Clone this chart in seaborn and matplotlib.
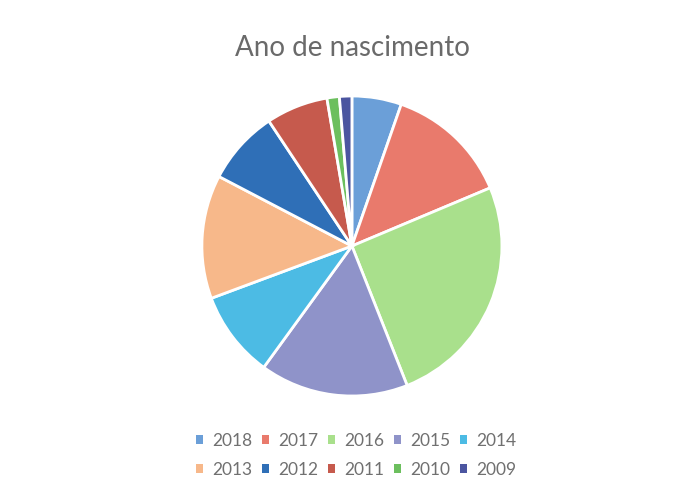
import matplotlib
matplotlib.use('Agg')
import matplotlib.pyplot as plt
import seaborn as sns
from matplotlib.patches import Patch

# Data (counts per birth year)
anos = ['2018', '2017', '2016', '2015', '2014', '2013', '2012', '2011', '2010', '2009']
contagens = [4, 10, 19, 12, 7, 10, 6, 5, 1, 1]
cores = ['#6b9fd8', '#e97a6c', '#a9e08c', '#8f93c9', '#4cbbe4',
         '#f7b88a', '#2f6fb7', '#c65a4d', '#6cbf5e', '#4b55a0']

sns.set_theme(style='white')
plt.rcParams['font.family'] = ['Lato', 'DejaVu Sans']

fig = plt.figure(figsize=(6.82, 5), dpi=100)
fig.patch.set_facecolor('white')

ax = fig.add_axes([0.296, 0.208, 0.44, 0.6])
ax.pie(contagens, colors=cores, startangle=90, counterclock=False,
       wedgeprops={'edgecolor': 'white', 'linewidth': 2})
ax.set_xlim(-1.0, 1.0)
ax.set_ylim(-1.0, 1.0)
ax.set_aspect('equal')

fig.text(0.517, 0.904, 'Ano de nascimento', ha='center', va='center',
         fontsize=20, color='#6a6a6a')

# legend fills column by column, so reorder to get two rows of five
ordem = [0, 5, 1, 6, 2, 7, 3, 8, 4, 9]
handles = [Patch(facecolor=cores[i], edgecolor='none') for i in ordem]
labels = [anos[i] for i in ordem]
fig.legend(handles, labels, loc='center', bbox_to_anchor=(0.522, 0.089), ncol=5,
           frameon=False, fontsize=12.5, labelcolor='#707070',
           handlelength=0.42, handleheight=0.42, handletextpad=0.5,
           columnspacing=0.57, labelspacing=0.75)

plt.savefig('out.png', dpi=100, facecolor='white')
